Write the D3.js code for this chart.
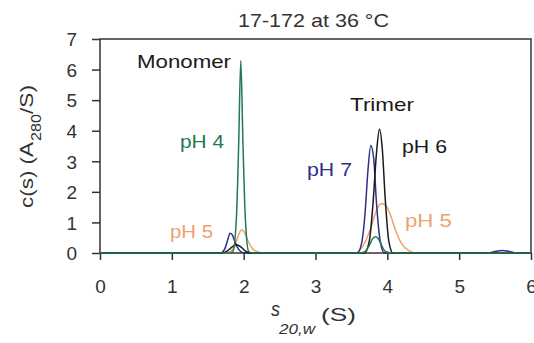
<!DOCTYPE html>
<meta charset="utf-8">
<script src="https://d3js.org/d3.v7.min.js"></script>
<style>
  body { margin: 0; background: #fff; }
  svg { font-family: "Liberation Sans", Arial, sans-serif; }
</style>
<div id="chart"></div>
<script>
// sedimentation coefficient (S) and c(s) values
const ph4S = [0, 1.80, 1.85, 1.90, 1.93, 1.96, 1.99, 2.02, 2.07, 2.12, 3.60, 3.68, 3.75, 3.80, 3.84, 3.88, 3.93, 3.98, 4.05, 6.0];
const ph4C = [0, 0, 0.05, 1.2, 3.5, 6.3, 3.6, 1.3, 0.05, 0, 0, 0.03, 0.25, 0.48, 0.53, 0.45, 0.2, 0.04, 0, 0];

const ph5S = [0, 1.75, 1.82, 1.88, 1.93, 1.97, 2.01, 2.06, 2.12, 2.20, 2.28, 3.55, 3.62, 3.70, 3.78, 3.85, 3.92, 3.98, 4.05, 4.12, 4.20, 4.30, 4.40, 6.0];
const ph5C = [0, 0, 0.05, 0.25, 0.6, 0.75, 0.68, 0.4, 0.15, 0.03, 0, 0, 0.1, 0.4, 0.9, 1.4, 1.62, 1.55, 1.2, 0.7, 0.3, 0.08, 0, 0];

const ph6S = [0, 1.70, 1.78, 1.85, 1.90, 1.96, 2.02, 2.10, 3.68, 3.75, 3.80, 3.85, 3.89, 3.93, 3.97, 4.02, 4.08, 6.0];
const ph6C = [0, 0, 0.08, 0.22, 0.27, 0.2, 0.07, 0, 0, 0.4, 1.6, 3.3, 4.05, 3.4, 1.8, 0.4, 0, 0];

const ph7S = [0, 1.68, 1.74, 1.78, 1.81, 1.84, 1.88, 1.93, 1.98, 2.04, 3.58, 3.64, 3.69, 3.73, 3.77, 3.81, 3.85, 3.90, 3.96, 5.40, 5.50, 5.60, 5.70, 5.80, 6.0];
const ph7C = [0, 0, 0.15, 0.45, 0.65, 0.6, 0.35, 0.12, 0.02, 0, 0, 0.3, 1.3, 2.7, 3.52, 3.1, 1.6, 0.4, 0, 0, 0.05, 0.08, 0.05, 0, 0];

const xTicks = [0, 1, 2, 3, 4, 5, 6];
const yTicks = [0, 1, 2, 3, 4, 5, 6, 7];

const width = 534, height = 343;
const margin = {top: 39, right: 3, bottom: 90, left: 100};
const w = width - margin.left - margin.right;
const h = height - margin.top - margin.bottom;

const svg = d3.select("#chart").append("svg")
  .attr("width", width)
  .attr("height", height);

const g = svg.append("g")
  .attr("transform", `translate(${margin.left},${margin.top})`);

const x = d3.scaleLinear().domain([0, 6]).range([0, w]);
const y = d3.scaleLinear().domain([0, 7]).range([h, 0]);

// axes
const xAxis = g.append("g")
  .attr("transform", `translate(0,${h})`)
  .call(d3.axisBottom(x).tickValues(xTicks).tickSize(7).tickPadding(20).tickFormat(d3.format("d")));
const yAxis = g.append("g")
  .call(d3.axisLeft(y).tickValues(yTicks).tickSize(8).tickPadding(15).tickFormat(d3.format("d")));

[xAxis, yAxis].forEach(a => {
  a.select(".domain").remove();
  a.selectAll("line").attr("stroke", "#333").attr("stroke-width", 1.5);
  a.selectAll("text").attr("fill", "#333").style("font-size", "19px");
});
yAxis.selectAll("text").attr("dy", "0.36em");

// frame
g.append("rect")
  .attr("width", w).attr("height", h)
  .attr("fill", "none")
  .attr("stroke", "#333")
  .attr("stroke-width", 1.5);

const series = [
  {s: ph5S, c: ph5C, color: "#f0a070"},
  {s: ph7S, c: ph7C, color: "#2e2e8c"},
  {s: ph6S, c: ph6C, color: "#1a1a1a"},
  {s: ph4S, c: ph4C, color: "#1e7a50"}
];

const line = d3.line()
  .x(d => x(d[0]))
  .y(d => y(d[1]))
  .curve(d3.curveMonotoneX);

series.forEach(sr => {
  g.append("path")
    .datum(sr.s.map((v, i) => [v, sr.c[i]]))
    .attr("fill", "none")
    .attr("stroke", sr.color)
    .attr("stroke-width", 1.5)
    .attr("d", line);
});

// text helper: left x, baseline y, fitted to a width
function label(parent, t, x0, y0, len, size, color, italic) {
  return parent.append("text")
    .attr("x", x0).attr("y", y0)
    .attr("fill", color)
    .attr("textLength", len)
    .attr("lengthAdjust", "spacingAndGlyphs")
    .style("font-size", size + "px")
    .style("font-style", italic ? "italic" : "normal")
    .text(t);
}

// annotations
label(svg, "Monomer", 137, 68, 94, 19, "#1a1a1a");
label(svg, "pH 4", 180, 148, 44, 19, "#1e7a50");
label(svg, "pH 5", 170, 238, 43, 19, "#f0a070");
label(svg, "Trimer", 350, 111, 64, 19, "#1a1a1a");
label(svg, "pH 6", 402, 153, 45, 19, "#1a1a1a");
label(svg, "pH 7", 307, 176, 45, 19, "#2e2e8c");
label(svg, "pH 5", 405, 227, 47, 19, "#f0a070");

// title
label(svg, "17-172 at 36 \u00B0C", 238, 27, 151, 19, "#333");

// y label
const yl = svg.append("g").attr("transform", "translate(33,208) rotate(-90)");
label(yl, "c(s) (A", 0, 0, 66, 19, "#333");
label(yl, "280", 67, 8, 27, 14, "#333");
label(yl, "/S)", 94, 0, 29, 19, "#333");

// x label
label(svg, "s", 271, 316, 9, 20, "#333", true);
label(svg, "20,w", 279, 334, 36, 15, "#333", true);
label(svg, "(S)", 321, 321, 35, 18, "#333");
</script>
